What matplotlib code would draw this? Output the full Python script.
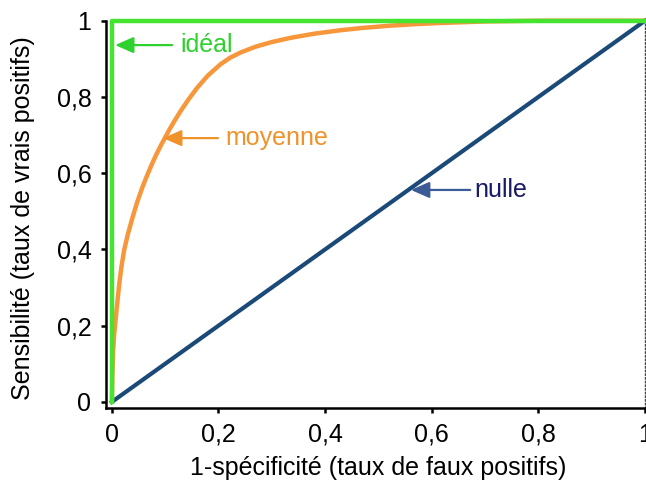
import matplotlib
matplotlib.use('Agg')
import matplotlib.pyplot as plt

plt.rcParams['font.family'] = ['Liberation Sans', 'DejaVu Sans']

# courbes ROC : idéale, moyenne et nulle
ideal_x = [0, 0, 1]
ideal_y = [0, 1, 1]

moy_x = [0, 0.001, 0.0025, 0.0045, 0.0075, 0.010, 0.014, 0.018, 0.023, 0.030,
         0.039, 0.047, 0.057, 0.064, 0.073, 0.082, 0.092, 0.107, 0.117, 0.129,
         0.143, 0.160, 0.180, 0.204, 0.222, 0.242, 0.270, 0.300, 0.335, 0.380,
         0.429, 0.470, 0.522, 0.570, 0.616, 0.700, 0.800, 1.0]
moy_y = [0, 0.07, 0.136, 0.18, 0.223, 0.258, 0.311, 0.355, 0.398, 0.44,
         0.485, 0.522, 0.562, 0.587, 0.617, 0.645, 0.673, 0.712, 0.736, 0.763,
         0.792, 0.824, 0.856, 0.886, 0.903, 0.917, 0.932, 0.944, 0.955, 0.966,
         0.975, 0.981, 0.987, 0.991, 0.994, 0.998, 1.0, 1.0]

nulle_x = [0, 1]
nulle_y = [0, 1]

ticks = [0, 0.2, 0.4, 0.6, 0.8, 1]
tick_labels = ['0', '0,2', '0,4', '0,6', '0,8', '1']

GREEN = '#44e430'
ORANGE = '#f7963a'
NAVY = '#1c4a78'

fig = plt.figure(figsize=(6.46, 4.86), dpi=100)
ax = fig.add_axes([106 / 646, 78 / 486, 539 / 646, 387.3 / 486])

ax.plot(nulle_x, nulle_y, color=NAVY, lw=3, clip_on=False, zorder=3)
ax.plot(moy_x, moy_y, color=ORANGE, lw=3.2, clip_on=False, zorder=4,
        solid_joinstyle='round', solid_capstyle='round')
ax.plot(ideal_x, ideal_y, color=GREEN, lw=3.2, clip_on=False, zorder=5)

ax.set_xlim(-0.011, 1)
ax.set_ylim(-0.016, 1)
ax.set_xticks(ticks)
ax.set_xticklabels(tick_labels)
ax.set_yticks(ticks)
ax.set_yticklabels(tick_labels)

for s in ['left', 'bottom']:
    ax.spines[s].set_linewidth(1.8)
ax.spines['top'].set_visible(False)
ax.spines['right'].set_linestyle(':')
ax.spines['right'].set_linewidth(1)
ax.spines['right'].set_color('#444444')

ax.tick_params(axis='both', labelsize=18, width=1.8, length=3.5, direction='out')
ax.tick_params(axis='x', pad=7)
ax.tick_params(axis='y', pad=7)

ax.set_xlabel('1-spécificité (taux de faux positifs)', fontsize=18)
ax.set_ylabel('Sensibilité (taux de vrais positifs)', fontsize=18)
ax.xaxis.set_label_coords(0.505, -0.124)
ax.yaxis.set_label_coords(-0.132, 0.49)

# flèches et étiquettes
def etiquette(txt, head, tail, tx, ty, c_txt, c_arrow):
    ax.annotate('', xy=head, xytext=tail,
                arrowprops=dict(arrowstyle='-|>,head_length=0.8,head_width=0.35',
                                color=c_arrow, lw=1.6, shrinkA=0, shrinkB=0,
                                mutation_scale=14),
                zorder=6)
    ax.text(tx, ty, txt, color=c_txt, fontsize=18, ha='left', va='center')

etiquette('idéal', (0.006, 0.936), (0.113, 0.936), 0.128, 0.936, '#2fd12f', '#2fd12f')
etiquette('moyenne', (0.096, 0.692), (0.199, 0.692), 0.212, 0.692, '#f0922a', '#f0922a')
etiquette('nulle', (0.561, 0.556), (0.672, 0.556), 0.679, 0.556, '#1a1a66', '#3b5a98')

fig.savefig('out.png', dpi=100)
